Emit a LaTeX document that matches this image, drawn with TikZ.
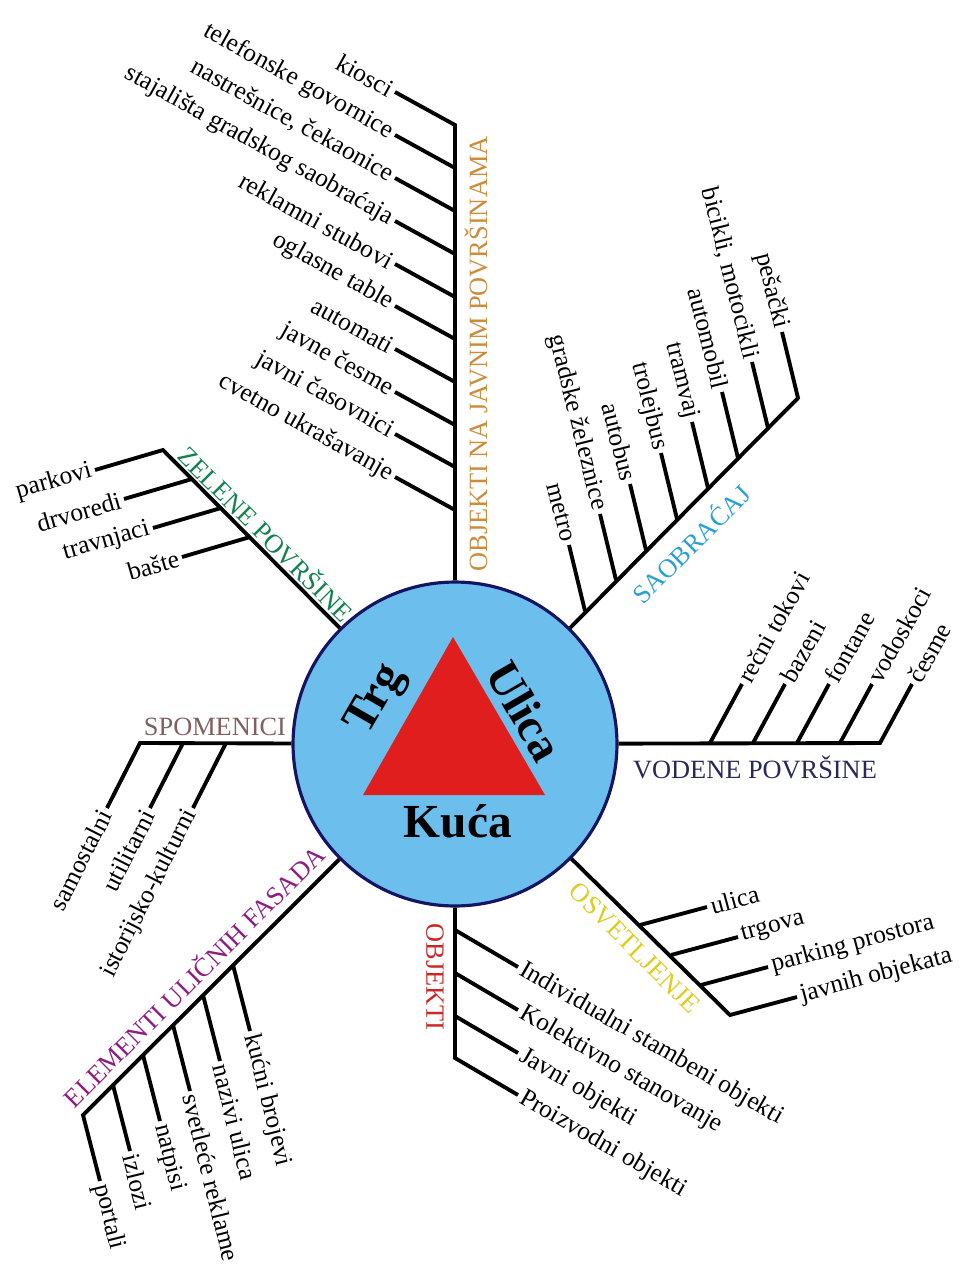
\documentclass[tikz,border=0pt]{standalone}
\usepackage{fontspec}
\setmainfont{Liberation Serif}
\usepackage{xcolor}
\usetikzlibrary{positioning}

\definecolor{hubblue}{RGB}{108,190,236}
\definecolor{hubedge}{RGB}{20,20,100}
\definecolor{trired}{RGB}{225,30,30}
\definecolor{ojorange}{RGB}{205,140,60}
\definecolor{zpgreen}{RGB}{20,130,80}
\definecolor{sablue}{RGB}{40,160,210}
\definecolor{vpnavy}{RGB}{40,40,90}
\definecolor{spbrown}{RGB}{130,95,95}
\definecolor{efpurple}{RGB}{140,30,130}
\definecolor{obred}{RGB}{200,40,40}
\definecolor{osyellow}{RGB}{220,205,30}

\begin{document}
\begin{tikzpicture}[x=0.02cm, y=-0.02cm, line join=miter,
    twig/.style={line width=2.2pt},
    leaf/.style={font=\fontsize{14.5}{16}\selectfont, inner sep=2pt},
    cat/.style={font=\fontsize{15}{17}\selectfont, inner sep=0pt},
    core/.style={font=\fontsize{27}{30}\selectfont\bfseries, inner sep=0pt},
    ojleaf/.style={leaf, anchor=east, rotate=-29},
    zpleaf/.style={leaf, anchor=east, rotate=16},
    saleaf/.style={leaf, anchor=east, rotate=-76},
    vpleaf/.style={leaf, anchor=west, rotate=61},
    spleaf/.style={leaf, anchor=east, rotate=63},
    efleaf/.style={leaf, anchor=west, rotate=-76},
    obleaf/.style={leaf, anchor=west, rotate=-30},
    osleaf/.style={leaf, anchor=west, rotate=15}]

  \useasboundingbox (0,0) rectangle (960,1267);

  \node[circle, draw=hubedge, fill=hubblue, line width=1.8pt, minimum size=6.48cm] (hub) at (455,744) {};
  \fill[trired] (453,637) -- (545,795) -- (363,795) -- cycle;
  \node[core, rotate=60] (trg) at (377,700) {Trg};
  \node[core, rotate=-60] (ulica) at (525,711) {Ulica};
  \node[core] (kuca) at (458,821) {Kuća};

  % objekti na javnim povrsinama
  \path (455,125) coordinate (oj1) (455,168) coordinate (oj2) (455,211) coordinate (oj3)
        (455,254) coordinate (oj4) (455,297) coordinate (oj5) (455,339) coordinate (oj6)
        (455,382) coordinate (oj7) (455,425) coordinate (oj8) (455,467) coordinate (oj9)
        (455,510) coordinate (oj10);
  \node[ojleaf] (kiosci) at (395,92) {kiosci};
  \node[ojleaf] (telefon) at (395,135) {telefonske govornice};
  \node[ojleaf] (nastresnice) at (395,178) {nastrešnice, čekaonice};
  \node[ojleaf] (stajalista) at (395,221) {stajališta gradskog saobraćaja};
  \node[ojleaf] (reklamni) at (395,264) {reklamni stubovi};
  \node[ojleaf] (oglasne) at (395,306) {oglasne table};
  \node[ojleaf] (automati) at (395,349) {automati};
  \node[ojleaf] (cesme) at (395,392) {javne česme};
  \node[ojleaf] (casovnici) at (395,434) {javni časovnici};
  \node[ojleaf] (cvetno) at (395,477) {cvetno ukrašavanje};
  \draw[twig] (kiosci.east) -- (oj1) -- (hub);
  \draw[twig] (oj2) -- (telefon.east) (oj3) -- (nastresnice.east) (oj4) -- (stajalista.east)
              (oj5) -- (reklamni.east) (oj6) -- (oglasne.east) (oj7) -- (automati.east)
              (oj8) -- (cesme.east) (oj9) -- (casovnici.east) (oj10) -- (cvetno.east);
  \node[cat, text=ojorange, rotate=90] (ojcat) at (476,354) {OBJEKTI NA JAVNIM POVRŠINAMA};

  % zelene povrsine
  \path (163,450) coordinate (zp1) (192,479) coordinate (zp2) (221,508) coordinate (zp3)
        (250,537) coordinate (zp4);
  \node[zpleaf] (parkovi) at (95,470) {parkovi};
  \node[zpleaf] (drvoredi) at (124,499) {drvoredi};
  \node[zpleaf] (travnjaci) at (153,528) {travnjaci};
  \node[zpleaf] (baste) at (182,557) {bašte};
  \draw[twig] (parkovi.east) -- (zp1) -- (hub);
  \draw[twig] (zp2) -- (drvoredi.east) (zp3) -- (travnjaci.east) (zp4) -- (baste.east);
  \node[cat, text=zpgreen, rotate=-45] (zpcat) at (267,533) {ZELENE POVRŠINE};

  % saobracaj
  \path (798,398) coordinate (sa1) (768,428) coordinate (sa2) (738,458) coordinate (sa3)
        (708,488) coordinate (sa4) (677,519) coordinate (sa5) (646,550) coordinate (sa6)
        (616,580) coordinate (sa7) (585,611) coordinate (sa8);
  \node[saleaf] (pesacki) at (782,332) {pešački};
  \node[saleaf] (bicikli) at (752,362) {bicikli, motocikli};
  \node[saleaf] (automobil) at (722,392) {automobil};
  \node[saleaf] (tramvaj) at (692,422) {tramvaj};
  \node[saleaf] (trolejbus) at (661,453) {trolejbus};
  \node[saleaf] (autobus) at (630,484) {autobus};
  \node[saleaf] (zeleznice) at (600,514) {gradske železnice};
  \node[saleaf] (metro) at (569,545) {metro};
  \draw[twig] (pesacki.east) -- (sa1) -- (hub);
  \draw[twig] (sa2) -- (bicikli.east) (sa3) -- (automobil.east) (sa4) -- (tramvaj.east)
              (sa5) -- (trolejbus.east) (sa6) -- (autobus.east) (sa7) -- (zeleznice.east)
              (sa8) -- (metro.east);
  \node[cat, text=sablue, rotate=45] (sacat) at (690,543) {SAOBRAĆAJ};

  % vodene povrsine
  \path (880,743) coordinate (vp1) (840,743) coordinate (vp2) (797,743) coordinate (vp3)
        (753,743) coordinate (vp4) (710,743) coordinate (vp5);
  \node[vpleaf] (vcesme) at (912,684) {česme};
  \node[vpleaf] (vodoskoci) at (872,684) {vodoskoci};
  \node[vpleaf] (fontane) at (829,684) {fontane};
  \node[vpleaf] (bazeni) at (785,684) {bazeni};
  \node[vpleaf] (recni) at (742,684) {rečni tokovi};
  \draw[twig] (vcesme.west) -- (vp1) -- (hub);
  \draw[twig] (vp2) -- (vodoskoci.west) (vp3) -- (fontane.west) (vp4) -- (bazeni.west)
              (vp5) -- (recni.west);
  \node[cat, text=vpnavy] (vpcat) at (755,767) {VODENE POVRŠINE};

  % spomenici
  \path (140,743) coordinate (sp1) (183,743) coordinate (sp2) (226,743) coordinate (sp3);
  \node[spleaf] (samostalni) at (107,808) {samostalni};
  \node[spleaf] (utilitarni) at (150,808) {utilitarni};
  \node[spleaf] (istorijski) at (193,808) {istorijsko-kulturni};
  \draw[twig] (samostalni.east) -- (sp1) -- (hub);
  \draw[twig] (sp2) -- (utilitarni.east) (sp3) -- (istorijski.east);
  \node[cat, text=spbrown] (spcat) at (215,727) {SPOMENICI};

  % elementi ulicnih fasada
  \path (83,1115) coordinate (ef1) (113,1085) coordinate (ef2) (143,1055) coordinate (ef3)
        (173,1025) coordinate (ef4) (203,995) coordinate (ef5) (233,965) coordinate (ef6);
  \node[efleaf] (portali) at (100,1181) {portali};
  \node[efleaf] (izlozi) at (130,1151) {izlozi};
  \node[efleaf] (natpisi) at (160,1121) {natpisi};
  \node[efleaf] (reklame) at (190,1091) {svetleće reklame};
  \node[efleaf] (nazivi) at (220,1061) {nazivi ulica};
  \node[efleaf] (brojevi) at (250,1031) {kućni brojevi};
  \draw[twig] (portali.west) -- (ef1) -- (hub);
  \draw[twig] (ef2) -- (izlozi.west) (ef3) -- (natpisi.west) (ef4) -- (reklame.west)
              (ef5) -- (nazivi.west) (ef6) -- (brojevi.west);
  \node[cat, text=efpurple, rotate=45] (efcat) at (193,975) {ELEMENTI ULIČNIH FASADA};

  % objekti
  \path (455,930) coordinate (ob1) (455,973) coordinate (ob2) (455,1016) coordinate (ob3)
        (455,1058) coordinate (ob4);
  \node[obleaf] (individualni) at (518,967) {Individualni stambeni objekti};
  \node[obleaf] (kolektivno) at (518,1010) {Kolektivno stanovanje};
  \node[obleaf] (javni) at (518,1053) {Javni objekti};
  \node[obleaf] (proizvodni) at (518,1095) {Proizvodni objekti};
  \draw[twig] (proizvodni.west) -- (ob4) -- (hub);
  \draw[twig] (ob1) -- (individualni.west) (ob2) -- (kolektivno.west) (ob3) -- (javni.west);
  \node[cat, text=obred, rotate=-90] (obcat) at (435,977) {OBJEKTI};

  % osvetljenje
  \path (640,925) coordinate (os1) (671,955) coordinate (os2) (701,985) coordinate (os3)
        (730,1015) coordinate (os4);
  \node[osleaf] (ulicaL) at (707,907) {ulica};
  \node[osleaf] (trgova) at (738,937) {trgova};
  \node[osleaf] (parking) at (768,967) {parking prostora};
  \node[osleaf] (javnih) at (797,997) {javnih objekata};
  \draw[twig] (javnih.west) -- (os4) -- (hub);
  \draw[twig] (os1) -- (ulicaL.west) (os2) -- (trgova.west) (os3) -- (parking.west);
  \node[cat, text=osyellow, rotate=-45] (oscat) at (635,948) {OSVETLJENJE};
\end{tikzpicture}
\end{document}
